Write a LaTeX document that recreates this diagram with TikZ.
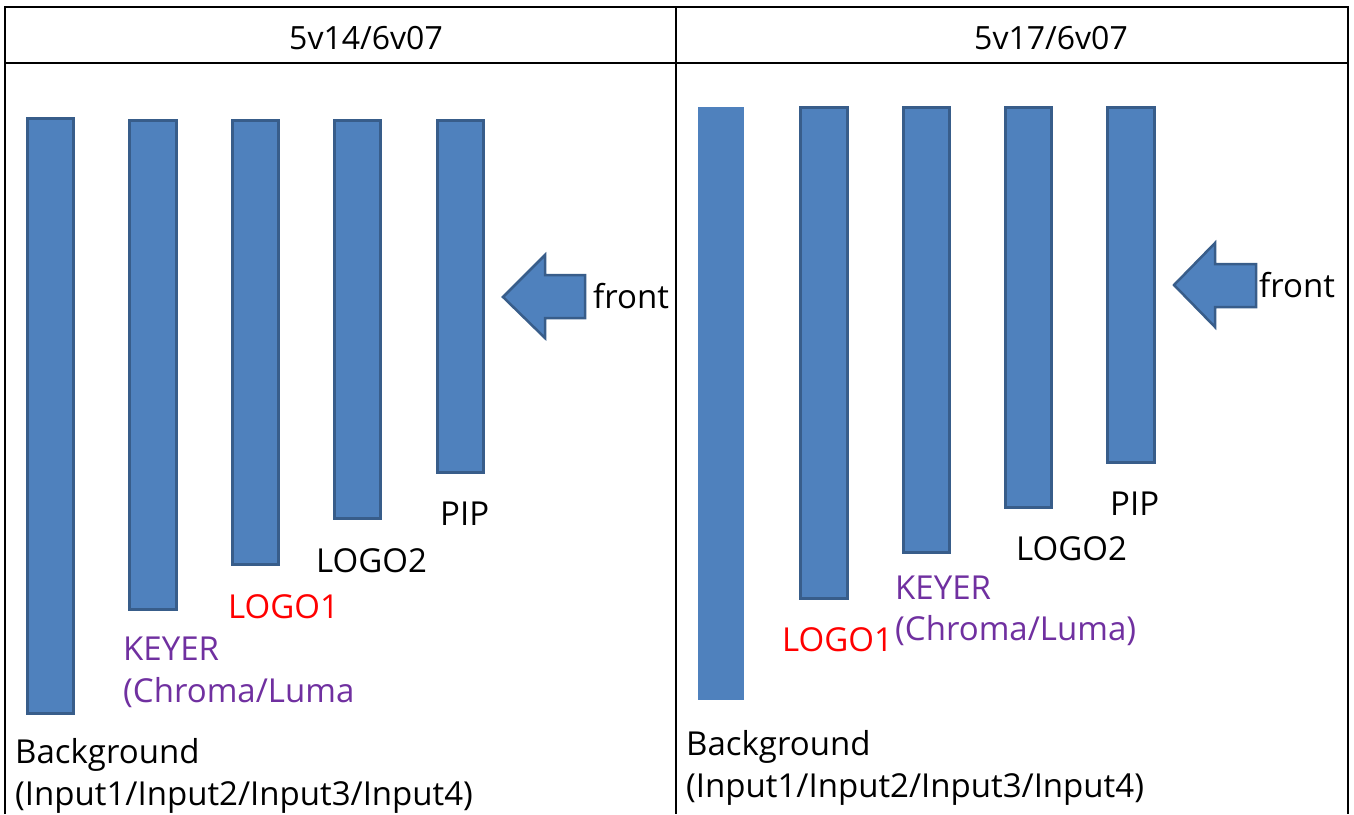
\documentclass[tikz,border=0pt]{standalone}
\usepackage{fontspec}
\setmainfont{Open Sans}
\definecolor{barfill}{HTML}{4F81BD}
\definecolor{barline}{HTML}{385D8A}
\definecolor{keyer}{HTML}{7030A0}
\definecolor{logored}{HTML}{FF0000}
\begin{document}
\begin{tikzpicture}[x=1pt,y=-1pt,
  bar/.style={fill=barfill,draw=barline,line width=3pt},
  plainbar/.style={fill=barfill},
  grid/.style={line width=2pt,black},
  lbl/.style={anchor=base west,inner sep=0pt,font=\fontsize{33}{38}\selectfont},
  ttl/.style={anchor=base,inner sep=0pt,font=\fontsize{32}{38}\selectfont}]
\useasboundingbox (0,0) rectangle (1354,814);
% table
\draw[grid] (5,814) -- (5,7) -- (1348,7) -- (1348,814);
\draw[grid] (5,63) -- (1348,63);
\draw[grid] (676,7) -- (676,814);
\node[ttl] (t1) at (366,49) {5v14/6v07};
\node[ttl] (t2) at (1051,49) {5v17/6v07};
% left panel
\draw[bar] (27,118) rectangle (73,713);
\draw[bar] (129,120) rectangle (176,609);
\draw[bar] (232,120) rectangle (278,564);
\draw[bar] (334,120) rectangle (380,518);
\draw[bar] (437,120) rectangle (483,472);
\draw[bar,line width=2.5pt] (503,297) -- (545,255) -- (545,275) -- (585,275) -- (585,318) -- (545,318) -- (545,338) -- cycle;
\node[lbl] (f1) at (593,308) {front};
\node[lbl,text=keyer] (k1) at (123,660) {KEYER};
\node[lbl,text=keyer] (c1) at (123,702) {(Chroma/Luma};
\node[lbl,text=logored] (l11) at (228,618) {LOGO1};
\node[lbl] (l21) at (316,572) {LOGO2};
\node[lbl] (p1) at (440,525) {PIP};
\node[lbl] (b1) at (15,763) {Background};
\node[lbl] (i1) at (15,805) {(Input1/Input2/Input3/Input4)};
% right panel
\fill[plainbar] (698,107) rectangle (744,700);
\draw[bar] (800,107) rectangle (847,598);
\draw[bar] (903,107) rectangle (949,552);
\draw[bar] (1005,107) rectangle (1051,507);
\draw[bar] (1107,107) rectangle (1154,462);
\draw[bar,line width=2.5pt] (1174,285) -- (1215,243) -- (1215,264) -- (1256,264) -- (1256,307) -- (1215,307) -- (1215,327) -- cycle;
\node[lbl] (f2) at (1259,297) {front};
\node[lbl,text=logored] (l12) at (782,651) {LOGO1};
\node[lbl,text=keyer] (k2) at (895,599) {KEYER};
\node[lbl,text=keyer] (c2) at (895,640) {(Chroma/Luma)};
\node[lbl] (l22) at (1016,560) {LOGO2};
\node[lbl] (p2) at (1110,515) {PIP};
\node[lbl] (b2) at (686,755) {Background};
\node[lbl] (i2) at (686,797) {(Input1/Input2/Input3/Input4)};
\end{tikzpicture}
\end{document}
